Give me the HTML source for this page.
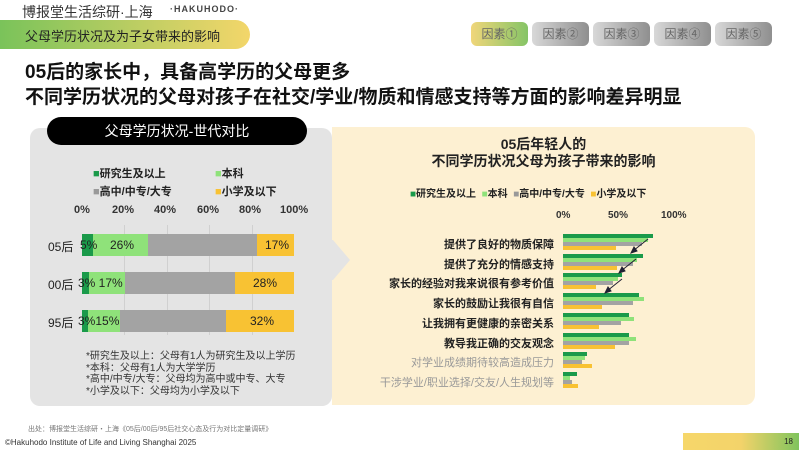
<!DOCTYPE html>
<html><head><meta charset="utf-8"><style>
*{margin:0;padding:0;box-sizing:border-box}
body{width:799px;height:450px;background:#fff;position:relative;overflow:hidden;font-family:"Liberation Sans","Noto Sans CJK SC",sans-serif;color:#222}
.a{position:absolute;white-space:nowrap}
.tab{position:absolute;top:22px;width:57px;height:24px;border-radius:6px;font-size:12px;color:#666;text-align:center;line-height:24px;background:linear-gradient(90deg,#d8d8d8,#8f8f8f)}
.b{position:absolute;height:22px}
.t{position:absolute;font-size:12px;color:#222}
.r{position:absolute;height:4px;left:563px}
.lab{position:absolute;right:245px;font-size:11px;font-weight:bold;color:#222;white-space:nowrap}
</style></head><body>
<div class="a" style="left:22px;top:2px;font-size:14px;color:#333">博报堂生活综研·上海</div>
<div class="a" style="left:170px;top:4px;font-size:9px;font-weight:bold;color:#444;letter-spacing:1px">·HAKUHODO·</div>
<div class="a" style="left:0;top:20px;width:250px;height:29px;border-radius:0 15px 15px 0;background:linear-gradient(90deg,#7ac35a,#f3d66a);"></div>
<div class="a" style="left:25px;top:26px;font-size:13px;color:#222">父母学历状况及为子女带来的影响</div>
<div class="tab" style="left:471px;background:linear-gradient(90deg,#f0d67a,#85c466)">因素①</div>
<div class="tab" style="left:532px">因素②</div>
<div class="tab" style="left:593px">因素③</div>
<div class="tab" style="left:654px">因素④</div>
<div class="tab" style="left:715px">因素⑤</div>
<div class="a" style="left:25px;top:60px;font-size:19px;font-weight:bold;color:#111;line-height:25px">05后的家长中，具备高学历的父母更多<br>不同学历状况的父母对孩子在社交/学业/物质和情感支持等方面的影响差异明显</div>
<div class="a" style="left:30px;top:128px;width:302px;height:278px;background:#e4e4e4;border-radius:10px"></div>
<div class="a" style="left:47px;top:117px;width:260px;height:28px;background:#000;border-radius:14px;color:#fff;font-size:14px;text-align:center;line-height:28px">父母学历状况-世代对比</div>
<div class="a" style="left:332px;top:127px;width:423px;height:278px;background:#fdf0d2;border-radius:0 10px 10px 0"></div>
<svg class="a" style="left:330px;top:240px" width="22" height="42"><polygon points="0,0 3,0 20,20 3,40 0,40" fill="#e4e4e4"/></svg>
<div class="a" style="left:93px;top:165px;font-size:11px;font-weight:bold;line-height:18px"><span style="color:#1a9a4a">■</span>研究生及以上<br><span style="color:#999">■</span>高中/中专/大专</div>
<div class="a" style="left:215px;top:165px;font-size:11px;font-weight:bold;line-height:18px"><span style="color:#8fe27a">■</span>本科<br><span style="color:#f8c233">■</span>小学及以下</div>
<div class="a" style="left:74px;top:204px;width:240px;font-size:11px;font-weight:bold;color:#333">
<span class="a" style="left:0">0%</span><span class="a" style="left:38px">20%</span><span class="a" style="left:80px">40%</span><span class="a" style="left:123px">60%</span><span class="a" style="left:165px">80%</span><span class="a" style="left:206px">100%</span></div>
<div class="a" style="left:124px;top:225px;width:1px;height:110px;background:#d0d0d0"></div>
<div class="a" style="left:167px;top:225px;width:1px;height:110px;background:#d0d0d0"></div>
<div class="a" style="left:209px;top:225px;width:1px;height:110px;background:#d0d0d0"></div>
<div class="a" style="left:252px;top:225px;width:1px;height:110px;background:#d0d0d0"></div>
<div class="t" style="left:48px;top:238px">05后</div>
<div class="b" style="left:82px;top:234px;width:11px;background:#1a9a4a"></div>
<div class="b" style="left:93px;top:234px;width:55px;background:#8fe27a"></div>
<div class="b" style="left:148px;top:234px;width:109px;background:#a3a3a3"></div>
<div class="b" style="left:257px;top:234px;width:37px;background:#f8c233"></div>
<div class="t" style="left:80px;top:238px">5%</div><div class="t" style="left:110px;top:238px">26%</div><div class="t" style="left:265px;top:238px">17%</div>
<div class="t" style="left:48px;top:276px">00后</div>
<div class="b" style="left:82px;top:272px;width:7px;background:#1a9a4a"></div>
<div class="b" style="left:89px;top:272px;width:36px;background:#8fe27a"></div>
<div class="b" style="left:125px;top:272px;width:110px;background:#a3a3a3"></div>
<div class="b" style="left:235px;top:272px;width:59px;background:#f8c233"></div>
<div class="t" style="left:78px;top:276px">3% 17%</div><div class="t" style="left:253px;top:276px">28%</div>
<div class="t" style="left:48px;top:314px">95后</div>
<div class="b" style="left:82px;top:310px;width:6px;background:#1a9a4a"></div>
<div class="b" style="left:88px;top:310px;width:32px;background:#8fe27a"></div>
<div class="b" style="left:120px;top:310px;width:106px;background:#a3a3a3"></div>
<div class="b" style="left:226px;top:310px;width:68px;background:#f8c233"></div>
<div class="t" style="left:78px;top:314px">3%15%</div><div class="t" style="left:250px;top:314px">32%</div>
<div class="a" style="left:86px;top:351px;font-size:10px;line-height:11.5px;color:#333">*研究生及以上：父母有1人为研究生及以上学历<br>*本科：父母有1人为大学学历<br>*高中/中专/大专：父母均为高中或中专、大专<br>*小学及以下：父母均为小学及以下</div>
<div class="a" style="left:332px;top:136px;width:423px;text-align:center;font-size:14px;font-weight:bold;line-height:17px;color:#222">05后年轻人的<br>不同学历状况父母为孩子带来的影响</div>
<div class="a" style="left:410px;top:185px;font-size:10px;font-weight:bold"><span style="color:#1a9a4a">■</span>研究生及以上 &nbsp;<span style="color:#8fe27a">■</span>本科 &nbsp;<span style="color:#999">■</span>高中/中专/大专 &nbsp;<span style="color:#f8c233">■</span>小学及以下</div>
<div class="a" style="left:556px;top:210px;font-size:10px;font-weight:bold;color:#333">0%</div>
<div class="a" style="left:608px;top:210px;font-size:10px;font-weight:bold;color:#333">50%</div>
<div class="a" style="left:661px;top:210px;font-size:10px;font-weight:bold;color:#333">100%</div>
<div id="rc"></div>
<svg class="a" style="left:600px;top:238px" width="60" height="70"><g stroke="#223" stroke-width="1" fill="#223">
<line x1="48" y1="1" x2="33" y2="13"/><polygon points="31,15 34,9 37,13"/>
<line x1="36" y1="21" x2="21" y2="33"/><polygon points="19,35 22,29 25,33"/>
<line x1="22" y1="41" x2="7" y2="53"/><polygon points="5,55 8,49 11,53"/></g></svg>
<div class="a" style="left:28px;top:424px;font-size:7px;color:#777">出处：博报堂生活综研・上海《05后/00后/95后社交心态及行为对比定量调研》</div>
<div class="a" style="left:5px;top:438px;font-size:8px;color:#333">©Hakuhodo Institute of Life and Living Shanghai 2025</div>
<div class="a" style="left:683px;top:433px;width:116px;height:17px;background:linear-gradient(90deg,#f6d76a,#f3d36a 50%,#80c45d);font-size:8px;text-align:right;padding-right:6px;line-height:17px">18</div>
<script>
var labels=["提供了良好的物质保障","提供了充分的情感支持","家长的经验对我来说很有参考价值","家长的鼓励让我很有自信","让我拥有更健康的亲密关系","教导我正确的交友观念","对学业成绩期待较高造成压力","干涉学业/职业选择/交友/人生规划等"];
var v=[[90,85,79,53],[80,74,70,54],[59,55,50,33],[76,81,70,39],[66,71,58,36],[66,73,66,52],[24,22,19,29],[14,7,9,15]];
var c=["#1a9a4a","#8fe27a","#a3a3a3","#f8c233"],h="";
for(var i=0;i<8;i++){var y=234+i*19.7;
h+='<div class="lab" style="top:'+(y+2)+'px;'+(i>5?'color:#999;font-weight:normal':'')+'">'+labels[i]+'</div>';
for(var j=0;j<4;j++)h+='<div class="r" style="top:'+(y+j*4)+'px;width:'+v[i][j]+'px;background:'+c[j]+'"></div>';}
document.getElementById("rc").innerHTML=h;
</script>
</body></html>
